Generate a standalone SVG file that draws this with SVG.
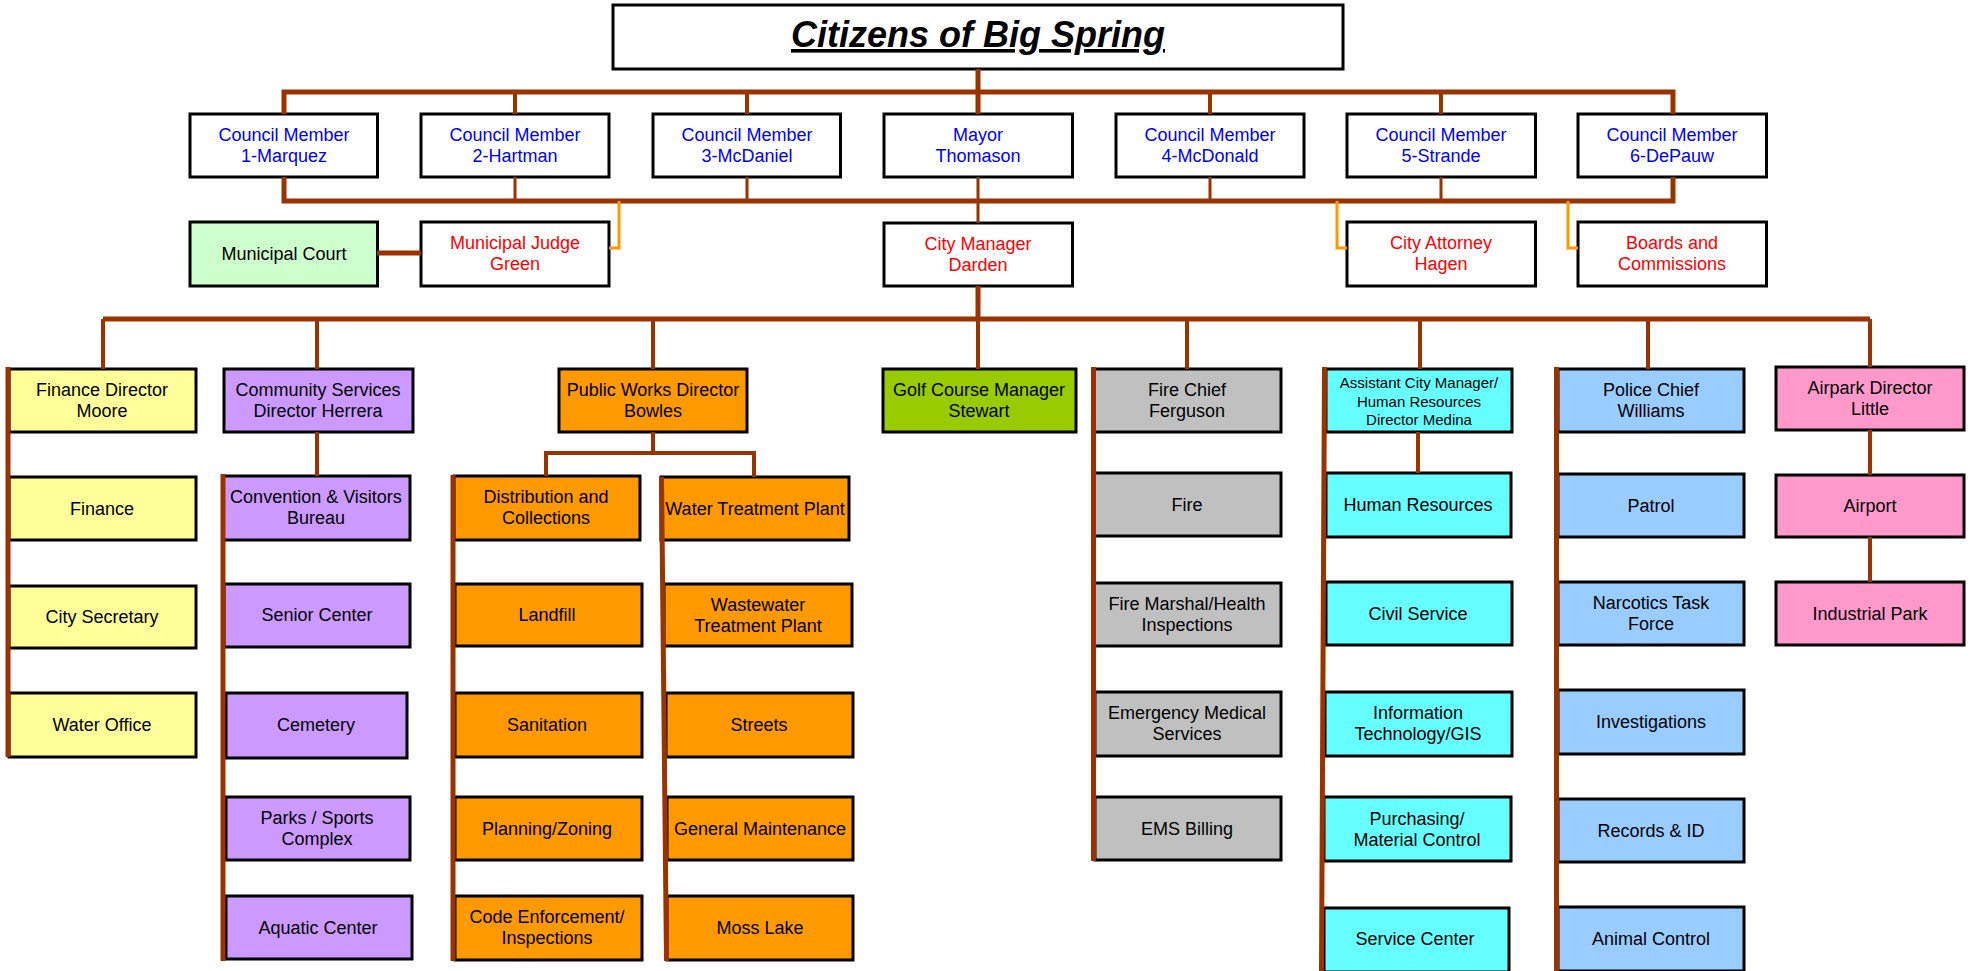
<svg xmlns="http://www.w3.org/2000/svg" width="1981" height="971" viewBox="0 0 1981 971">
<style>
  .b{stroke:#000;stroke-width:3}
  .w{fill:#fff}.y{fill:#FFFF99}.p{fill:#CC99FF}.o{fill:#FF9900}.g{fill:#99CC00}.s{fill:#C0C0C0}.c{fill:#66FFFF}.l{fill:#99CCFF}.k{fill:#FF99CC}.m{fill:#CCFFCC}
  text{font-family:"Liberation Sans",Arial,sans-serif;font-size:18px;text-anchor:middle;fill:#000}
  .bl{fill:#0000FF}.rd{fill:#FF0000}
  .sm{font-size:15px}
  .title{font-size:36px;font-weight:bold;font-style:italic;text-decoration:underline}
  .br{fill:none;stroke:#993300}
  .or{fill:none;stroke:#FF9900;stroke-width:3}
</style>
<rect width="1981" height="971" fill="#fff"/>

<g id="title"><rect class="b w" x="613" y="5" width="730" height="64"/><text class="title" x="978" y="47">Citizens of Big Spring</text></g>

<g id="cm1"><rect class="b w" x="190" y="114" width="187.5" height="63"/><text class="bl" x="284" y="141">Council Member</text><text class="bl" x="284" y="162">1-Marquez</text></g>
<g id="cm2"><rect class="b w" x="421" y="114" width="188" height="63"/><text class="bl" x="515" y="141">Council Member</text><text class="bl" x="515" y="162">2-Hartman</text></g>
<g id="cm3"><rect class="b w" x="653" y="114" width="187.5" height="63"/><text class="bl" x="747" y="141">Council Member</text><text class="bl" x="747" y="162">3-McDaniel</text></g>
<g id="mayor"><rect class="b w" x="884" y="114" width="188.5" height="63"/><text class="bl" x="978" y="141">Mayor</text><text class="bl" x="978" y="162">Thomason</text></g>
<g id="cm4"><rect class="b w" x="1116" y="114" width="188" height="63"/><text class="bl" x="1210" y="141">Council Member</text><text class="bl" x="1210" y="162">4-McDonald</text></g>
<g id="cm5"><rect class="b w" x="1347" y="114" width="188.5" height="63"/><text class="bl" x="1441" y="141">Council Member</text><text class="bl" x="1441" y="162">5-Strande</text></g>
<g id="cm6"><rect class="b w" x="1578" y="114" width="188.5" height="63"/><text class="bl" x="1672" y="141">Council Member</text><text class="bl" x="1672" y="162">6-DePauw</text></g>

<g id="court"><rect class="b m" x="190" y="222" width="187.5" height="64"/><text x="284" y="260">Municipal Court</text></g>
<g id="judge"><rect class="b w" x="421" y="222" width="188" height="64"/><text class="rd" x="515" y="249">Municipal Judge</text><text class="rd" x="515" y="270">Green</text></g>
<g id="citymgr"><rect class="b w" x="884" y="223" width="188.5" height="63"/><text class="rd" x="978" y="250">City Manager</text><text class="rd" x="978" y="271">Darden</text></g>
<g id="attorney"><rect class="b w" x="1347" y="222" width="188.5" height="64"/><text class="rd" x="1441" y="249">City Attorney</text><text class="rd" x="1441" y="270">Hagen</text></g>
<g id="boards"><rect class="b w" x="1578" y="222" width="188.5" height="64"/><text class="rd" x="1672" y="249">Boards and</text><text class="rd" x="1672" y="270">Commissions</text></g>

<g id="finance-dir"><rect class="b y" x="9" y="369" width="187" height="63"/><text x="102" y="396">Finance Director</text><text x="102" y="417">Moore</text></g>
<g id="finance"><rect class="b y" x="9" y="477" width="187" height="63"/><text x="102" y="515">Finance</text></g>
<g id="city-sec"><rect class="b y" x="9" y="586" width="187" height="62"/><text x="102" y="623">City Secretary</text></g>
<g id="water-office"><rect class="b y" x="9" y="693" width="187" height="64"/><text x="102" y="731">Water Office</text></g>

<g id="community-dir"><rect class="b p" x="224" y="369" width="189" height="63"/><text x="318" y="396">Community Services</text><text x="318" y="417">Director Herrera</text></g>
<g id="convention"><rect class="b p" x="223" y="476" width="187" height="64"/><text x="316" y="503">Convention &amp; Visitors</text><text x="316" y="524">Bureau</text></g>
<g id="senior"><rect class="b p" x="224" y="584" width="186" height="63"/><text x="317" y="621">Senior Center</text></g>
<g id="cemetery"><rect class="b p" x="226" y="693" width="181" height="65"/><text x="316" y="731">Cemetery</text></g>
<g id="parks"><rect class="b p" x="226" y="797" width="184" height="63"/><text x="317" y="824">Parks / Sports</text><text x="317" y="845">Complex</text></g>
<g id="aquatic"><rect class="b p" x="226" y="896" width="186" height="63"/><text x="318" y="934">Aquatic Center</text></g>

<g id="public-works"><rect class="b o" x="559" y="369" width="188" height="63"/><text x="653" y="396">Public Works Director</text><text x="653" y="417">Bowles</text></g>
<g id="distribution"><rect class="b o" x="454" y="476" width="186" height="64"/><text x="546" y="503">Distribution and</text><text x="546" y="524">Collections</text></g>
<g id="landfill"><rect class="b o" x="455" y="584" width="187" height="62"/><text x="547" y="621">Landfill</text></g>
<g id="sanitation"><rect class="b o" x="455" y="693" width="187" height="64"/><text x="547" y="731">Sanitation</text></g>
<g id="planning"><rect class="b o" x="455" y="797" width="187" height="63"/><text x="547" y="835">Planning/Zoning</text></g>
<g id="code"><rect class="b o" x="455" y="896" width="187" height="64"/><text x="547" y="923">Code Enforcement/</text><text x="547" y="944">Inspections</text></g>
<g id="wtp"><rect class="b o" x="661" y="477" width="188" height="63"/><text x="755" y="515">Water Treatment Plant</text></g>
<g id="wastewater"><rect class="b o" x="664" y="584" width="188" height="62"/><text x="758" y="611">Wastewater</text><text x="758" y="632">Treatment Plant</text></g>
<g id="streets"><rect class="b o" x="666" y="693" width="187" height="64"/><text x="759" y="731">Streets</text></g>
<g id="maintenance"><rect class="b o" x="667" y="797" width="186" height="63"/><text x="760" y="835">General Maintenance</text></g>
<g id="moss-lake"><rect class="b o" x="667" y="896" width="186" height="64"/><text x="760" y="934">Moss Lake</text></g>

<g id="golf"><rect class="b g" x="883" y="369" width="193" height="63"/><text x="979" y="396">Golf Course Manager</text><text x="979" y="417">Stewart</text></g>

<g id="fire-chief"><rect class="b s" x="1094" y="369" width="187" height="63"/><text x="1187" y="396">Fire Chief</text><text x="1187" y="417">Ferguson</text></g>
<g id="fire"><rect class="b s" x="1094" y="473" width="187" height="63"/><text x="1187" y="511">Fire</text></g>
<g id="fire-marshal"><rect class="b s" x="1094" y="583" width="187" height="63"/><text x="1187" y="610">Fire Marshal/Health</text><text x="1187" y="631">Inspections</text></g>
<g id="ems"><rect class="b s" x="1095" y="692" width="186" height="64"/><text x="1187" y="719">Emergency Medical</text><text x="1187" y="740">Services</text></g>
<g id="ems-billing"><rect class="b s" x="1095" y="797" width="186" height="63"/><text x="1187" y="835">EMS Billing</text></g>

<g id="acm"><rect class="b c" x="1326" y="369" width="186" height="63"/><text class="sm" x="1419" y="388">Assistant City Manager/</text><text class="sm" x="1419" y="407">Human Resources</text><text class="sm" x="1419" y="425">Director Medina</text></g>
<g id="hr"><rect class="b c" x="1326" y="473" width="185" height="64"/><text x="1418" y="511">Human Resources</text></g>
<g id="civil"><rect class="b c" x="1326" y="582" width="186" height="63"/><text x="1418" y="620">Civil Service</text></g>
<g id="it"><rect class="b c" x="1325" y="692" width="187" height="64"/><text x="1418" y="719">Information</text><text x="1418" y="740">Technology/GIS</text></g>
<g id="purchasing"><rect class="b c" x="1324" y="797" width="187" height="64"/><text x="1417" y="825">Purchasing/</text><text x="1417" y="846">Material Control</text></g>
<g id="service"><rect class="b c" x="1324" y="908" width="185" height="64"/><text x="1415" y="945">Service Center</text></g>

<g id="police-chief"><rect class="b l" x="1558" y="369" width="186" height="63"/><text x="1651" y="396">Police Chief</text><text x="1651" y="417">Williams</text></g>
<g id="patrol"><rect class="b l" x="1558" y="474" width="186" height="63"/><text x="1651" y="512">Patrol</text></g>
<g id="narcotics"><rect class="b l" x="1558" y="582" width="186" height="63"/><text x="1651" y="609">Narcotics Task</text><text x="1651" y="630">Force</text></g>
<g id="investigations"><rect class="b l" x="1558" y="690" width="186" height="64"/><text x="1651" y="728">Investigations</text></g>
<g id="records"><rect class="b l" x="1558" y="799" width="186" height="63"/><text x="1651" y="837">Records &amp; ID</text></g>
<g id="animal"><rect class="b l" x="1558" y="907" width="186" height="64"/><text x="1651" y="945">Animal Control</text></g>

<g id="airpark"><rect class="b k" x="1776" y="367" width="188" height="63"/><text x="1870" y="394">Airpark Director</text><text x="1870" y="415">Little</text></g>
<g id="airport"><rect class="b k" x="1776" y="475" width="188" height="62"/><text x="1870" y="512">Airport</text></g>
<g id="industrial"><rect class="b k" x="1776" y="582" width="188" height="63"/><text x="1870" y="620">Industrial Park</text></g>

<g id="connectors">
  <path class="br" stroke-width="5" d="M978,69V114M284,114V92H1673V114M284,177V201H1673V177M978,286V319M103,319H1870M377,253H421"/>
  <path class="br" stroke-width="4" d="M515,92V114M747,92V114M1210,92V114M1441,92V114"/>
  <path class="br" stroke-width="3" d="M515,177V201M747,177V201M978,177V223M1210,177V201M1441,177V201"/>
  <path class="or" d="M619,201V248H609M1337,201V248H1347M1568,201V248H1578"/>
  <path class="br" stroke-width="4" d="M103,319V369M317,319V369M653,319V369M978,319V369M1187,319V369M1420,319V369M1648,319V369M1870,319V367"/>
  <path class="br" stroke-width="5" d="M8,367V757M223,474V961M453,475V961M661.5,477L666.5,961M1093.5,367V861M1324.5,367L1321.5,971M1556.5,367V971"/>
  <path class="br" stroke-width="4" d="M317,432V476M653,432V453M546,476V453H754V477M1418,432V473M1870,430V475M1870,537V582"/>
</g>
</svg>
